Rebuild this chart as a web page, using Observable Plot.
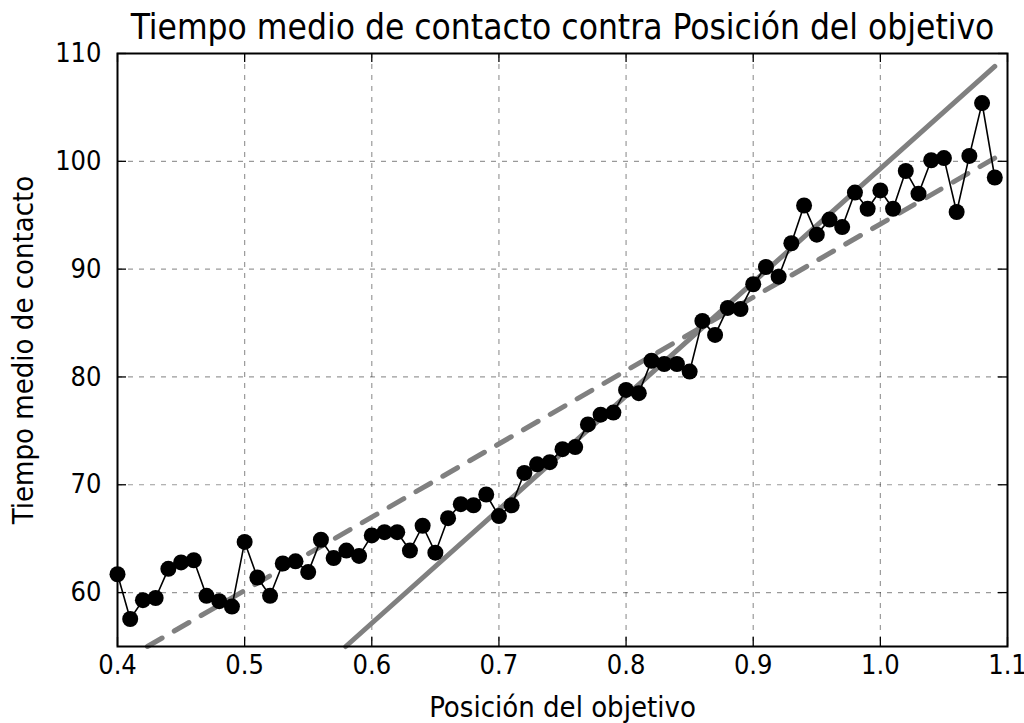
<!DOCTYPE html>
<html>
<head>
<meta charset="utf-8">
<script src="https://cdn.jsdelivr.net/npm/d3@7"></script>
<script src="https://cdn.jsdelivr.net/npm/@observablehq/plot@0.6"></script>
<style>
  html, body { margin: 0; padding: 0; background: #fff; }
  #chart svg { display: block; }
</style>
</head>
<body>
<div id="chart"></div>
<script>
// ---- data ----
const positions = [
  0.40,0.41,0.42,0.43,0.44,0.45,0.46,0.47,0.48,0.49,
  0.50,0.51,0.52,0.53,0.54,0.55,0.56,0.57,0.58,0.59,
  0.60,0.61,0.62,0.63,0.64,0.65,0.66,0.67,0.68,0.69,
  0.70,0.71,0.72,0.73,0.74,0.75,0.76,0.77,0.78,0.79,
  0.80,0.81,0.82,0.83,0.84,0.85,0.86,0.87,0.88,0.89,
  0.90,0.91,0.92,0.93,0.94,0.95,0.96,0.97,0.98,0.99,
  1.00,1.01,1.02,1.03,1.04,1.05,1.06,1.07,1.08,1.09
];
const meanTimes = [
  61.7,57.55,59.3,59.5,62.2,62.8,63.0,59.7,59.2,58.7,
  64.7,61.4,59.7,62.7,62.9,61.9,64.9,63.2,63.9,63.4,
  65.3,65.6,65.6,63.9,66.2,63.7,66.9,68.2,68.1,69.1,
  67.1,68.1,71.1,71.9,72.1,73.3,73.5,75.6,76.5,76.7,
  78.8,78.5,81.5,81.2,81.2,80.5,85.2,83.9,86.4,86.3,
  88.6,90.2,89.3,92.4,95.9,93.2,94.6,93.9,97.1,95.6,
  97.3,95.6,99.1,97.0,100.1,100.3,95.3,100.5,105.4,98.5
];
// fitted lines (end points as seen inside the axes)
const solidFitX = [0.5795, 1.09];
const solidFitY = [55.0, 108.8];
const dashedFitX = [0.4235, 1.09];
const dashedFitY = [55.0, 100.3];

const xTicks = [0.4, 0.5, 0.6, 0.7, 0.8, 0.9, 1.0, 1.1];
const yTicks = [60, 70, 80, 90, 100, 110];
const xDomain = [0.4, 1.1];
const yDomain = [55, 110];

const title = "Tiempo medio de contacto contra Posición del objetivo";
const xLabel = "Posición del objetivo";
const yLabel = "Tiempo medio de contacto";

// ---- build tables ----
const points = positions.map((x, i) => ({x, y: meanTimes[i]}));
const solidFit = solidFitX.map((x, i) => ({x, y: solidFitY[i]}));
const dashedFit = dashedFitX.map((x, i) => ({x, y: dashedFitY[i]}));

const W = 1024, H = 723;
const mL = 117, mR = 17, mT = 53, mB = 77;
const frameW = W - mL - mR, frameH = H - mT - mB;
const tickLen = 9;
const font = "'DejaVu Sans Condensed', 'DejaVu Sans', sans-serif";

const gridStyle = {stroke: "#000", strokeOpacity: 0.4, strokeWidth: 1.2, strokeDasharray: "5,6"};

const chart = Plot.plot({
  width: W,
  height: H,
  marginLeft: mL, marginRight: mR, marginTop: mT, marginBottom: mB,
  style: {fontFamily: font, fontSize: "27px", color: "#000", background: "#fff", overflow: "visible"},
  x: {domain: xDomain, ticks: xTicks, tickFormat: d3.format(".1f"), tickSize: 0, tickPadding: 8, label: null},
  y: {domain: yDomain, ticks: yTicks, tickFormat: d3.format("d"), tickSize: 0, tickPadding: 16, label: null},
  marks: [
    // grid
    Plot.ruleX(xTicks.filter(d => d > xDomain[0] && d < xDomain[1]), {x: d => d, ...gridStyle}),
    Plot.ruleY(yTicks.filter(d => d > yDomain[0] && d < yDomain[1]), {y: d => d, ...gridStyle}),
    // fitted lines
    Plot.line(solidFit, {x: "x", y: "y", stroke: "#808080", strokeWidth: 5}),
    Plot.line(dashedFit, {x: "x", y: "y", stroke: "#808080", strokeWidth: 5, strokeDasharray: "17,14"}),
    // data
    Plot.line(points, {x: "x", y: "y", stroke: "#000", strokeWidth: 1.6}),
    Plot.dot(points, {x: "x", y: "y", r: 8, fill: "#000", stroke: "none"}),
    // inward ticks on all four sides
    Plot.tickX(xTicks, {x: d => d, stroke: "#000", strokeWidth: 1.3, insetTop: frameH - tickLen}),
    Plot.tickX(xTicks, {x: d => d, stroke: "#000", strokeWidth: 1.3, insetBottom: frameH - tickLen}),
    Plot.tickY(yTicks, {y: d => d, stroke: "#000", strokeWidth: 1.3, insetRight: frameW - tickLen}),
    Plot.tickY(yTicks, {y: d => d, stroke: "#000", strokeWidth: 1.3, insetLeft: frameW - tickLen}),
    Plot.frame({stroke: "#000", strokeWidth: 2}),
    // title and axis labels
    Plot.text([title], {frameAnchor: "top", lineAnchor: "middle", textAnchor: "middle", dy: -26, text: d => d, fontSize: 35, fill: "#000"}),
    Plot.text([xLabel], {frameAnchor: "bottom", lineAnchor: "middle", textAnchor: "middle", dy: 61, text: d => d, fontSize: 29, fill: "#000"}),
    Plot.text([yLabel], {frameAnchor: "left", lineAnchor: "middle", textAnchor: "middle", dx: -94, rotate: -90, text: d => d, fontSize: 29, fill: "#000"})
  ]
});
document.getElementById("chart").appendChild(chart);
</script>
</body>
</html>
